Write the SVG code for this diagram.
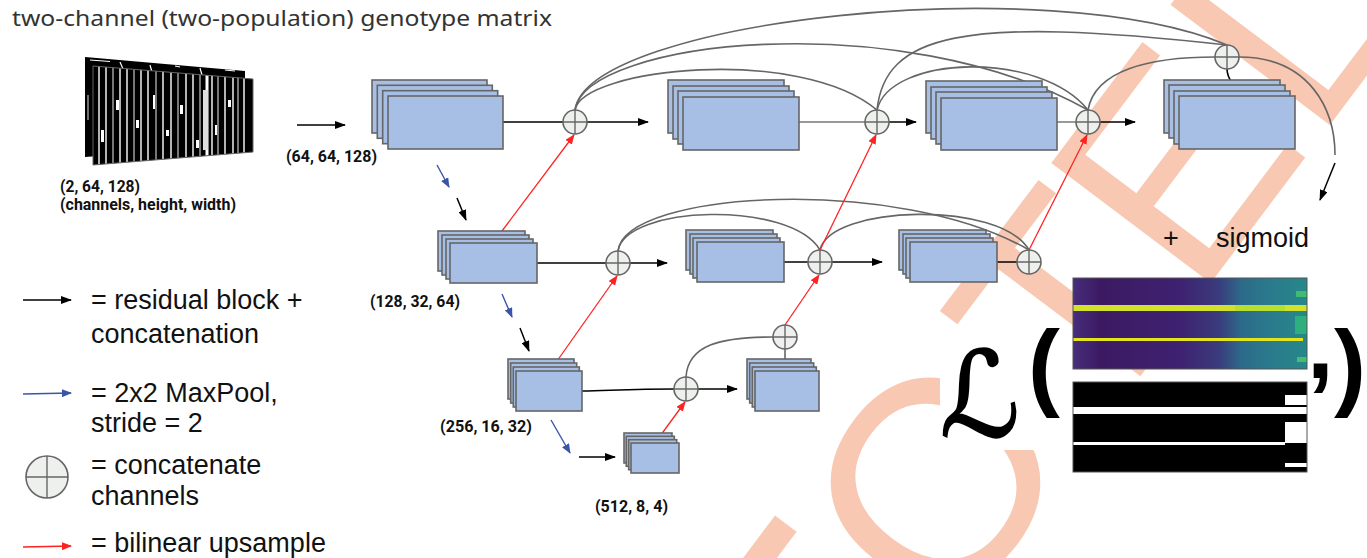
<svg xmlns="http://www.w3.org/2000/svg" width="1367" height="558" viewBox="0 0 1367 558">
<style>
.blk{fill:#a7bfe4;stroke:#666;stroke-width:1.6}
.cc{fill:#eef0ee;stroke:#666;stroke-width:1.6}
.cx{stroke:#666;stroke-width:1.4;fill:none}
.sk{fill:none;stroke:#666;stroke-width:1.6}
.bk{fill:none;stroke:#000;stroke-width:1.5}
.gl{fill:none;stroke:#777;stroke-width:1.5}
.rd{fill:none;stroke:#f22;stroke-width:1.3}
.bl{fill:none;stroke:#3b54a8;stroke-width:1.4}
.dim{font-family:Roboto,"Liberation Sans",sans-serif;font-weight:bold;font-size:16px;fill:#111}
.lg{font-family:"Liberation Sans",Arial,sans-serif;font-size:27px;fill:#111}
.big{font-family:"Liberation Sans",Arial,sans-serif;font-weight:bold;font-size:96px;fill:#000}
.wm{fill:#f8c8b2}
</style>
<defs>
<marker id="ak" viewBox="0 0 11 8" refX="10" refY="4" markerWidth="11" markerHeight="8" markerUnits="userSpaceOnUse" orient="auto"><path d="M0,0 L11,4 L0,8 z" fill="#000"/></marker>
<marker id="ar" viewBox="0 0 10 8" refX="9" refY="4" markerWidth="10" markerHeight="8" markerUnits="userSpaceOnUse" orient="auto"><path d="M0,0 L10,4 L0,8 z" fill="#f22"/></marker>
<marker id="ab" viewBox="0 0 10 8" refX="9" refY="4" markerWidth="10" markerHeight="8" markerUnits="userSpaceOnUse" orient="auto"><path d="M0,0 L10,4 L0,8 z" fill="#3b54a8"/></marker>
<clipPath id="fp"><polygon points="93,66 253,79 253,152 93,165"/></clipPath>
<clipPath id="canvas"><rect width="1367" height="558"/></clipPath>
<linearGradient id="hm" x1="0" y1="0" x2="1" y2="0">
<stop offset="0" stop-color="#472d7b"/><stop offset="0.12" stop-color="#3c1a62"/><stop offset="0.45" stop-color="#3e2170"/><stop offset="0.62" stop-color="#3a3a7c"/><stop offset="0.72" stop-color="#2d6a8a"/><stop offset="0.85" stop-color="#2a7b8c"/><stop offset="1" stop-color="#26888a"/>
</linearGradient>
</defs>
<rect width="1367" height="558" fill="#fff"/>

<g id="watermark" clip-path="url(#canvas)">
<g transform="translate(817.2,805.2) rotate(-53)">
<text class="wm" x="217 462 630 828" y="0" font-family="'Liberation Sans',Arial,sans-serif" font-size="290">OTEL</text>
<rect class="wm" x="60" y="-208" width="146" height="27"/>
</g>
</g>

<text x="12" y="26" font-family="'Noto Sans','Open Sans',sans-serif" font-size="21" fill="#333" textLength="540" lengthAdjust="spacingAndGlyphs">two-channel (two-population) genotype matrix</text>

<g id="genotype-matrix">
<polygon points="85,57 245,71 245,145 85,157" fill="#000"/>
<g stroke="#fff" stroke-width="1.2">
<line x1="90" y1="60" x2="110" y2="61.5"/><line x1="120" y1="62" x2="123" y2="69"/><line x1="150" y1="65" x2="152" y2="72"/><line x1="175" y1="66" x2="180" y2="67"/><line x1="200" y1="68" x2="202" y2="75"/><line x1="225" y1="70" x2="235" y2="71"/>
<line x1="88" y1="95" x2="88" y2="120" stroke="#bbb"/>
</g>
<polygon points="93,66 253,79 253,152 93,165" fill="#000"/>
<g clip-path="url(#fp)" stroke-width="1.4">
<g stroke="#fff">
<line x1="99" y1="60" x2="99" y2="170"/><line x1="106" y1="60" x2="106" y2="170"/><line x1="120" y1="60" x2="120" y2="170"/><line x1="127" y1="60" x2="127" y2="170"/><line x1="141" y1="60" x2="141" y2="170"/><line x1="148" y1="60" x2="148" y2="170"/><line x1="163" y1="60" x2="163" y2="170"/><line x1="171" y1="60" x2="171" y2="170"/><line x1="186" y1="60" x2="186" y2="170"/><line x1="193" y1="60" x2="193" y2="170"/><line x1="207" y1="60" x2="207" y2="170" stroke-width="3"/><line x1="212" y1="60" x2="212" y2="170"/><line x1="225" y1="60" x2="225" y2="170"/><line x1="233" y1="60" x2="233" y2="170"/><line x1="244" y1="60" x2="244" y2="170"/>
</g>
<g stroke="#aaa">
<line x1="113" y1="60" x2="113" y2="170"/><line x1="134" y1="60" x2="134" y2="170"/><line x1="156" y1="60" x2="156" y2="170"/><line x1="178" y1="60" x2="178" y2="170"/><line x1="200" y1="60" x2="200" y2="170"/><line x1="218" y1="60" x2="218" y2="170"/><line x1="238" y1="60" x2="238" y2="170"/>
</g>
<g fill="#fff">
<rect x="116" y="100" width="3" height="10"/><rect x="136" y="120" width="3" height="8"/><rect x="153" y="95" width="2" height="14"/><rect x="166" y="130" width="3" height="6"/><rect x="180" y="105" width="3" height="9"/><rect x="196" y="140" width="3" height="8"/><rect x="203" y="90" width="5" height="60" fill="#ddd"/><rect x="215" y="125" width="2" height="10"/><rect x="228" y="100" width="3" height="7"/><rect x="101" y="130" width="3" height="12"/>
</g>
</g>
<polygon points="93,66 253,79 253,152 93,165" fill="none" stroke="#666" stroke-width="1"/>
</g>

<g id="labels">
<text class="dim" x="60" y="192" textLength="80" lengthAdjust="spacingAndGlyphs">(2, 64, 128)</text>
<text class="dim" x="60" y="210" textLength="176" lengthAdjust="spacingAndGlyphs">(channels, height, width)</text>
<text class="dim" x="286" y="162" textLength="91" lengthAdjust="spacingAndGlyphs">(64, 64, 128)</text>
<text class="dim" x="370" y="307" textLength="90" lengthAdjust="spacingAndGlyphs">(128, 32, 64)</text>
<text class="dim" x="440" y="432" textLength="92" lengthAdjust="spacingAndGlyphs">(256, 16, 32)</text>
<text class="dim" x="595" y="512" textLength="73" lengthAdjust="spacingAndGlyphs">(512, 8, 4)</text>
</g>

<g id="connectors">
<path class="sk" d="M575,110 C582,68 800,45 877,110"/>
<path class="sk" d="M575,110 C585,40 900,5 1088,110"/>
<path class="sk" d="M575,110 C588,20 1050,-30 1227,45"/>
<path class="sk" d="M877,110 C890,55 1040,50 1088,110"/>
<path class="sk" d="M877,110 C885,35 960,15 1227,45"/>
<path class="sk" d="M1088,110 C1095,70 1150,57 1215,57"/>
<path class="sk" d="M1239,57 C1310,57 1335,110 1335,155"/>
<path fill="none" stroke="#000" stroke-width="1.6" d="M1227,69 C1227,82 1237,84 1237,96"/>
<path class="sk" d="M618,251 C625,205 790,200 820,250"/>
<path class="sk" d="M618,251 C625,190 900,175 1029,250"/>
<path class="sk" d="M820,250 C830,205 1000,200 1029,250"/>
<path class="sk" d="M686,377 C688,345 720,337 773,337"/>
<line class="sk" x1="785" y1="349" x2="785" y2="359"/>
<line class="bk" x1="297" y1="125" x2="345" y2="125" marker-end="url(#ak)"/>
<line class="bk" x1="503" y1="122" x2="563" y2="122"/>
<line class="bk" x1="587" y1="122" x2="648" y2="122" marker-end="url(#ak)"/>
<line class="gl" x1="799" y1="122" x2="865" y2="122"/>
<line class="bk" x1="889" y1="122" x2="916" y2="122" marker-end="url(#ak)"/>
<line class="gl" x1="1057" y1="122" x2="1076" y2="122"/>
<line class="bk" x1="1100" y1="122" x2="1135" y2="122" marker-end="url(#ak)"/>
<line class="bk" x1="537" y1="263" x2="606" y2="263"/>
<line class="bk" x1="630" y1="263" x2="667" y2="263" marker-end="url(#ak)"/>
<line class="bk" x1="784" y1="262" x2="808" y2="262"/>
<line class="bk" x1="832" y1="262" x2="882" y2="262" marker-end="url(#ak)"/>
<line class="bk" x1="997" y1="262" x2="1017" y2="262"/>
<path class="bk" d="M582,391 C620,390 640,389 674,389"/>
<line class="bk" x1="698" y1="389" x2="737" y2="389" marker-end="url(#ak)"/>
<line class="bk" x1="579" y1="457" x2="615" y2="457" marker-end="url(#ak)"/>
<line class="bl" x1="437" y1="165" x2="449" y2="187" marker-end="url(#ab)"/>
<line class="bk" x1="457" y1="198" x2="466" y2="220" marker-end="url(#ak)"/>
<line class="bl" x1="502" y1="294" x2="512" y2="317" marker-end="url(#ab)"/>
<line class="bk" x1="520" y1="328" x2="529" y2="351" marker-end="url(#ak)"/>
<line class="bl" x1="551" y1="420" x2="570" y2="453" marker-end="url(#ab)"/>
<line class="bk" x1="1335" y1="163" x2="1320" y2="200" marker-end="url(#ak)"/>
<line class="rd" x1="493" y1="243" x2="574" y2="135" marker-end="url(#ar)"/>
<line class="rd" x1="550" y1="371" x2="617" y2="276" marker-end="url(#ar)"/>
<line class="rd" x1="655" y1="443" x2="685" y2="402" marker-end="url(#ar)"/>
<line class="rd" x1="785" y1="325" x2="819" y2="275" marker-end="url(#ar)"/>
<line class="rd" x1="820" y1="250" x2="876" y2="135" marker-end="url(#ar)"/>
<line class="rd" x1="1029" y1="250" x2="1087" y2="135" marker-end="url(#ar)"/>
</g>

<g id="block-1-1"><rect class="blk" x="372" y="80" width="115" height="53"/><rect class="blk" x="377.3" y="85.3" width="115" height="53"/><rect class="blk" x="382.7" y="90.7" width="115" height="53"/><rect class="blk" x="388" y="96" width="115" height="53"/></g>
<g id="block-1-2"><rect class="blk" x="668" y="80" width="116" height="53"/><rect class="blk" x="673" y="86" width="116" height="53"/><rect class="blk" x="678" y="91" width="116" height="53"/><rect class="blk" x="683" y="97" width="116" height="53"/></g>
<g id="block-1-3"><rect class="blk" x="926" y="81" width="116" height="52"/><rect class="blk" x="931" y="87" width="116" height="52"/><rect class="blk" x="936" y="92" width="116" height="52"/><rect class="blk" x="941" y="98" width="116" height="52"/></g>
<g id="block-1-4"><rect class="blk" x="1164" y="80" width="116" height="53"/><rect class="blk" x="1169" y="85" width="116" height="53"/><rect class="blk" x="1174" y="91" width="116" height="53"/><rect class="blk" x="1179" y="96" width="116" height="53"/></g>
<g id="block-2-1"><rect class="blk" x="438" y="231" width="87" height="40"/><rect class="blk" x="442" y="235" width="87" height="40"/><rect class="blk" x="446" y="239" width="87" height="40"/><rect class="blk" x="450" y="243" width="87" height="40"/></g>
<g id="block-2-2"><rect class="blk" x="686" y="230" width="87" height="40"/><rect class="blk" x="690" y="234" width="87" height="40"/><rect class="blk" x="693" y="238" width="87" height="40"/><rect class="blk" x="697" y="242" width="87" height="40"/></g>
<g id="block-2-3"><rect class="blk" x="899" y="230" width="87" height="40"/><rect class="blk" x="903" y="234" width="87" height="40"/><rect class="blk" x="906" y="238" width="87" height="40"/><rect class="blk" x="910" y="242" width="87" height="40"/></g>
<g id="block-3-1"><rect class="blk" x="508" y="359" width="66" height="40"/><rect class="blk" x="510.7" y="363" width="66" height="40"/><rect class="blk" x="513.3" y="367" width="66" height="40"/><rect class="blk" x="516" y="371" width="66" height="40"/></g>
<g id="block-3-2"><rect class="blk" x="747" y="359" width="64" height="40"/><rect class="blk" x="749.7" y="363" width="64" height="40"/><rect class="blk" x="752.3" y="367" width="64" height="40"/><rect class="blk" x="755" y="371" width="64" height="40"/></g>
<g id="block-4"><rect class="blk" x="624" y="433" width="48" height="30"/><rect class="blk" x="626.3" y="436.3" width="48" height="30"/><rect class="blk" x="628.7" y="439.7" width="48" height="30"/><rect class="blk" x="631" y="443" width="48" height="30"/></g>

<g id="concat-1"><circle class="cc" cx="575" cy="122" r="12"/><path class="cx" d="M563,122 H587 M575,110 V134"/></g>
<g id="concat-2"><circle class="cc" cx="877" cy="122" r="12"/><path class="cx" d="M865,122 H889 M877,110 V134"/></g>
<g id="concat-3"><circle class="cc" cx="1088" cy="122" r="12"/><path class="cx" d="M1076,122 H1100 M1088,110 V134"/></g>
<g id="concat-top"><circle class="cc" cx="1227" cy="57" r="12"/><path class="cx" d="M1215,57 H1239 M1227,45 V69"/></g>
<g id="concat-2-1"><circle class="cc" cx="618" cy="263" r="12"/><path class="cx" d="M606,263 H630 M618,251 V275"/></g>
<g id="concat-2-2"><circle class="cc" cx="820" cy="262" r="12"/><path class="cx" d="M808,262 H832 M820,250 V274"/></g>
<g id="concat-2-3"><circle class="cc" cx="1029" cy="262" r="12"/><path class="cx" d="M1017,262 H1041 M1029,250 V274"/></g>
<g id="concat-3-1"><circle class="cc" cx="686" cy="389" r="12"/><path class="cx" d="M674,389 H698 M686,377 V401"/></g>
<g id="concat-3-2"><circle class="cc" cx="785" cy="337" r="12"/><path class="cx" d="M773,337 H797 M785,325 V349"/></g>

<g id="output">
<text class="lg" x="1163" y="247">+</text>
<text class="lg" x="1216" y="247">sigmoid</text>
</g>

<g id="loss">
<rect x="940" y="346" width="128" height="104" fill="#fff"/>
<text x="940" y="436" font-family="'DejaVu Sans',sans-serif" font-size="118" fill="#000" stroke="#000" stroke-width="2" textLength="80" lengthAdjust="spacingAndGlyphs">ℒ</text>
<text class="big" x="1028" y="398" font-size="92">(</text>
<text class="big" x="1307" y="378" font-size="92">,</text>
<text class="big" x="1334" y="398" font-size="92">)</text>
<g id="prediction">
<rect x="1073" y="278" width="234" height="91" fill="url(#hm)"/>
<rect x="1296" y="291" width="11" height="6" fill="#3fbc73"/>
<rect x="1295" y="316" width="12" height="18" fill="#2fae7e"/>
<rect x="1297" y="357" width="10" height="5" fill="#44bf70"/>
<rect x="1073" y="305" width="234" height="6" fill="#d2e22b"/>
<rect x="1235" y="305" width="50" height="6" fill="#b8de30"/>
<rect x="1073" y="338" width="230" height="3" fill="#e4e41c"/>
<rect x="1073" y="278" width="234" height="91" fill="none" stroke="#555" stroke-width="1"/>
</g>
<g id="target">
<rect x="1073" y="382" width="234" height="90" fill="#000"/>
<rect x="1073" y="407" width="234" height="7" fill="#fff"/>
<rect x="1285" y="395" width="22" height="10" fill="#fff"/>
<rect x="1285" y="422" width="22" height="21" fill="#fff"/>
<rect x="1073" y="442" width="212" height="3" fill="#fff"/>
<rect x="1285" y="463" width="22" height="4" fill="#fff"/>
<rect x="1073" y="382" width="234" height="90" fill="none" stroke="#555" stroke-width="1"/>
</g>
</g>

<g id="legend">
<line class="bk" x1="23" y1="300" x2="71" y2="300" marker-end="url(#ak)"/>
<text class="lg" x="91" y="309">= residual block +</text>
<text class="lg" x="91" y="343">concatenation</text>
<line class="bl" x1="23" y1="394" x2="71" y2="393" marker-end="url(#ab)"/>
<text class="lg" x="91" y="402">= 2x2 MaxPool,</text>
<text class="lg" x="91" y="432">stride = 2</text>
<circle class="cc" cx="47" cy="477" r="21"/><path class="cx" d="M26,477 H68 M47,456 V498"/>
<text class="lg" x="91" y="474">= concatenate</text>
<text class="lg" x="91" y="505">channels</text>
<line class="rd" x1="23" y1="547" x2="71" y2="546" marker-end="url(#ar)"/>
<text class="lg" x="91" y="552">= bilinear upsample</text>
</g>
</svg>
